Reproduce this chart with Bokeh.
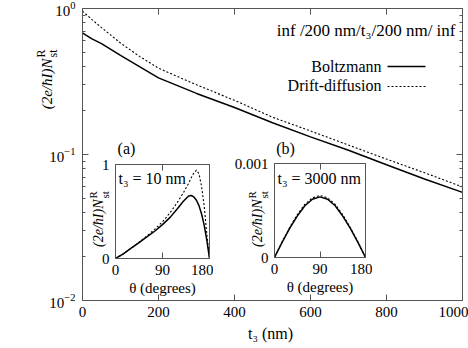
import math
from bokeh.plotting import figure
from bokeh.models import (LogAxis, LinearAxis, Label, Arrow, FixedTicker,
                          LogTickFormatter, CustomLabelingPolicy)
from bokeh.embed import file_html
from bokeh.resources import INLINE

# ---------------- data ----------------
t3_nm = [0, 10, 25, 50, 100, 150, 200, 300, 400, 500, 600, 700, 800, 900, 1000]
boltzmann = [0.68, 0.655, 0.62, 0.575, 0.477, 0.40, 0.335, 0.262, 0.21, 0.165, 0.132, 0.107, 0.085, 0.068, 0.055]
drift_diffusion = [0.96, 0.91, 0.84, 0.74, 0.58, 0.47, 0.39, 0.30, 0.235, 0.18, 0.145, 0.116, 0.093, 0.075, 0.060]

theta_a = [0, 15, 30, 45, 60, 75, 90, 105, 120, 130, 140, 145, 150, 155, 160, 165, 170, 175, 180]
boltz_a = [0, 0.05, 0.11, 0.17, 0.23, 0.29, 0.36, 0.44, 0.54, 0.61, 0.665, 0.67, 0.655, 0.62, 0.56, 0.47, 0.35, 0.19, 0]
drift_a = [0, 0.05, 0.11, 0.17, 0.24, 0.31, 0.39, 0.49, 0.61, 0.70, 0.80, 0.86, 0.91, 0.94, 0.90, 0.76, 0.55, 0.25, 0]

theta_b = [0, 15, 30, 45, 60, 75, 90, 105, 120, 135, 150, 165, 180]
boltz_b = [0, 0.16e-3, 0.31e-3, 0.44e-3, 0.55e-3, 0.62e-3, 0.645e-3, 0.62e-3, 0.55e-3, 0.44e-3, 0.31e-3, 0.16e-3, 0]
drift_b = [0, 0.165e-3, 0.32e-3, 0.455e-3, 0.565e-3, 0.635e-3, 0.66e-3, 0.635e-3, 0.565e-3, 0.455e-3, 0.32e-3, 0.165e-3, 0]

x_ticks_main = [0, 200, 400, 600, 800, 1000]
y_ticks_main = [0.01, 0.1, 1]
y_minor_main = [m * d for d in (0.01, 0.1) for m in range(2, 10)]
theta_ticks = [0, 90, 180]

FONT = "Liberation Serif"
AX = "#555555"
DASH = "2 2"
W, H = 468, 348
HIDE = CustomLabelingPolicy(code="return []")


def style_axis(ax, labels=True, minor=True, size="15px"):
    ax.axis_line_color = AX
    ax.major_tick_line_color = AX
    ax.minor_tick_line_color = AX
    ax.major_tick_in = 6
    ax.major_tick_out = 0
    ax.minor_tick_in = 3 if minor else 0
    ax.minor_tick_out = 0
    ax.major_label_text_font = FONT
    ax.major_label_text_color = "black"
    ax.axis_label_text_font = FONT
    ax.axis_label_text_font_style = "normal"
    ax.axis_label_text_color = "black"
    if labels:
        ax.major_label_text_font_size = size
        ax.major_label_standoff = 6
    else:
        ax.major_label_text_font_size = "1px"
        ax.major_label_standoff = 0
        ax.major_label_policy = HIDE


# ---------------- main figure ----------------
p = figure(width=W, height=H, x_range=(0, 1000), y_range=(0.01, 1),
           y_axis_type="log", output_backend="svg", toolbar_location=None,
           min_border_left=82, min_border_right=6, min_border_top=8, min_border_bottom=48)
p.grid.visible = False
p.outline_line_color = None
p.background_fill_color = "white"

p.xaxis.ticker = FixedTicker(ticks=x_ticks_main)
style_axis(p.xaxis[0], minor=False)
p.xaxis.axis_label = "t₃  (nm)"
p.xaxis.axis_label_text_font_size = "16px"
p.xaxis.axis_label_standoff = 5
p.yaxis.ticker = FixedTicker(ticks=y_ticks_main, minor_ticks=y_minor_main)
p.yaxis.formatter = LogTickFormatter()
style_axis(p.yaxis[0])
p.yaxis.major_label_standoff = 7

top = LinearAxis(ticker=FixedTicker(ticks=x_ticks_main))
style_axis(top, labels=False, minor=False)
p.add_layout(top, "above")
right = LogAxis(ticker=FixedTicker(ticks=y_ticks_main, minor_ticks=y_minor_main))
style_axis(right, labels=False)
p.add_layout(right, "right")

p.line(t3_nm, boltzmann, line_color="black", line_width=1.5)
p.line(t3_nm, drift_diffusion, line_color="black", line_width=1.1, line_dash=DASH)


# ---------------- insets ----------------
def inset(left_border, yticks, overrides, left_px, top_px, theta, solid, dashed, ymax):
    f = figure(width=left_border + 94 + 4, height=9 + 94 + 44, x_range=(0, 180), y_range=(0, ymax),
               output_backend="svg", toolbar_location=None,
               min_border_left=left_border, min_border_right=4, min_border_top=9, min_border_bottom=44)
    f.grid.visible = False
    f.outline_line_color = None
    f.background_fill_alpha = 0
    f.border_fill_alpha = 0
    f.xaxis.ticker = FixedTicker(ticks=theta_ticks)
    style_axis(f.xaxis[0], minor=False, size="15px")
    f.xaxis.axis_label = "θ (degrees)"
    f.xaxis.axis_label_text_font_size = "15px"
    f.xaxis.axis_label_standoff = 2
    f.xaxis.major_label_standoff = 6
    f.yaxis.ticker = FixedTicker(ticks=yticks)
    f.yaxis.major_label_overrides = overrides
    style_axis(f.yaxis[0], minor=False, size="15px")
    f.yaxis.major_label_standoff = 6
    ta = LinearAxis(ticker=FixedTicker(ticks=theta_ticks))
    style_axis(ta, labels=False, minor=False)
    f.add_layout(ta, "above")
    ra = LinearAxis(ticker=FixedTicker(ticks=yticks))
    style_axis(ra, labels=False, minor=False)
    f.add_layout(ra, "right")
    f.line(theta, solid, line_color="black", line_width=1.5)
    f.line(theta, dashed, line_color="black", line_width=1.1, line_dash=DASH)
    f.styles = {"position": "absolute", "left": f"{left_px}px", "top": f"{top_px}px"}
    return f


pa = inset(29, [0, 1], {0: "0", 1: "1"}, 86, 155, theta_a, boltz_a, drift_a, 1.0)
pb = inset(45, [0, 0.001], {0: "0", 0.001: "0.001"}, 229, 154, theta_b, boltz_b, drift_b, 0.001)

# ---------------- text overlay (page coordinates) ----------------
ov = figure(width=W, height=H, x_range=(0, 1), y_range=(0, 1), output_backend="svg",
            toolbar_location=None, min_border=0, x_axis_location=None, y_axis_location=None)
ov.grid.visible = False
ov.outline_line_color = None
ov.background_fill_alpha = 0
ov.border_fill_alpha = 0
ov.styles = {"position": "absolute", "left": "0px", "top": "0px"}


def lab(x, y, text, size="16px", align="left", angle=0.0, style="normal"):
    ov.add_layout(Label(x=x, y=H - y, x_units="screen", y_units="screen", text=text,
                        text_font=FONT, text_font_size=size, text_align=align,
                        text_baseline="middle", angle=angle, text_font_style=style,
                        text_color="black"))


def ylabel(cx, top_y, size, small):
    lab(cx, top_y, "(2e/ħI)N", size=size, align="right", angle=math.pi / 2, style="italic")
    lab(cx - 6, top_y - 1, "R", size=small, align="left", angle=math.pi / 2)
    lab(cx + 6, top_y - 1, "st", size=small, align="left", angle=math.pi / 2)


ylabel(46, 58, "15px", "12px")
ylabel(98, 199, "14px", "11px")
ylabel(257, 199, "14px", "11px")

lab(455, 30, "inf /200 nm/t₃/200 nm/ inf", size="17px", align="right")
lab(381, 66, "Boltzmann", align="right")
lab(381, 85, "Drift-diffusion", align="right")
ov.add_layout(Arrow(x_start=387, y_start=H - 66, x_end=425, y_end=H - 66, start_units="screen",
                    end_units="screen", start=None, end=None, line_color="black", line_width=1.5))
ov.add_layout(Arrow(x_start=387, y_start=H - 86, x_end=425, y_end=H - 86, start_units="screen",
                    end_units="screen", start=None, end=None, line_color="black", line_width=1.1,
                    line_dash=DASH))
lab(126, 148, "(a)", align="center")
lab(285, 148, "(b)", align="center")
lab(118, 178, "t₃ = 10 nm")
lab(277, 178, "t₃ = 3000 nm")

open("out.html", "w").write(file_html([p, pa, pb, ov], INLINE))
